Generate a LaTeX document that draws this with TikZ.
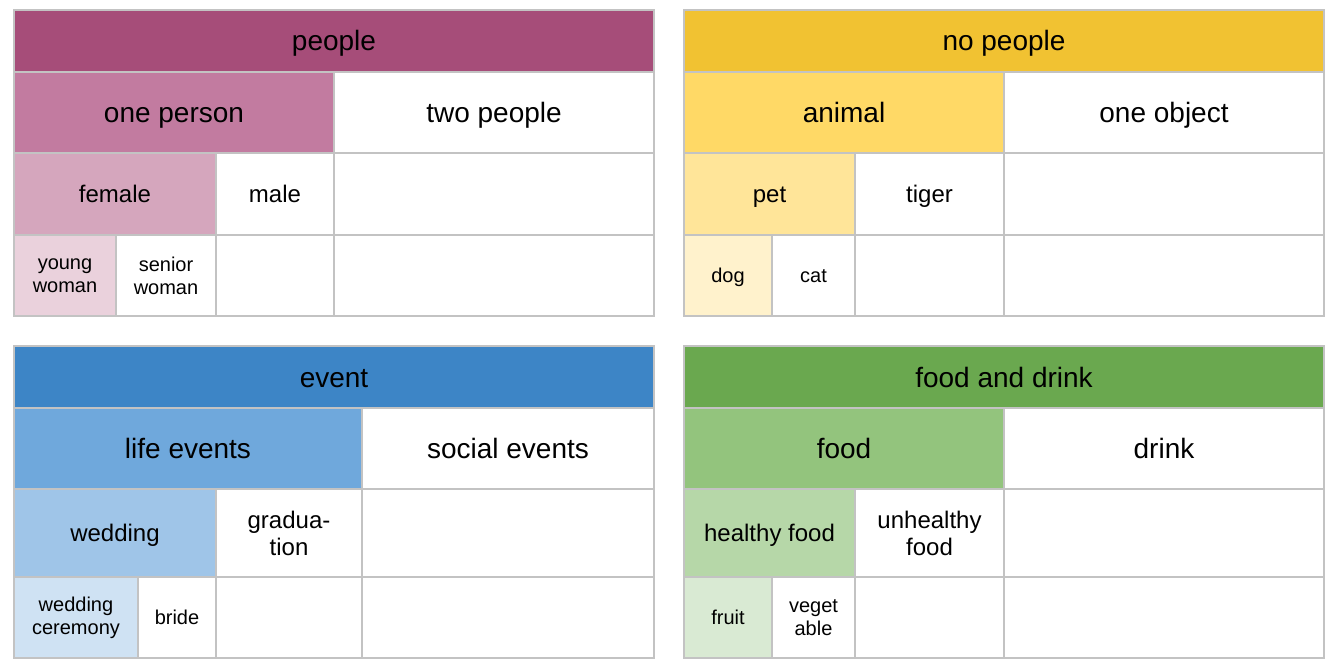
\documentclass[tikz,border=0pt]{standalone}
\usepackage{fontspec}
\setmainfont{Liberation Sans}
\definecolor{rule}{HTML}{C3C3C3}
\definecolor{magA}{HTML}{A64D79}
\definecolor{magB}{HTML}{C27BA0}
\definecolor{magC}{HTML}{D5A6BD}
\definecolor{magD}{HTML}{EAD1DC}
\definecolor{ylwA}{HTML}{F1C232}
\definecolor{ylwB}{HTML}{FFD966}
\definecolor{ylwC}{HTML}{FFE599}
\definecolor{ylwD}{HTML}{FFF2CC}
\definecolor{bluA}{HTML}{3D85C6}
\definecolor{bluB}{HTML}{6FA8DC}
\definecolor{bluC}{HTML}{9FC5E8}
\definecolor{bluD}{HTML}{CFE2F3}
\definecolor{grnA}{HTML}{6AA84F}
\definecolor{grnB}{HTML}{93C47D}
\definecolor{grnC}{HTML}{B6D7A8}
\definecolor{grnD}{HTML}{D9EAD3}
\usepackage{tikz}

\begin{document}
\begin{tikzpicture}[x=1bp,y=-1bp,
  cell/.style={draw=rule,line width=1.5bp,fill=white,rectangle,inner sep=0pt,align=center,text depth=0pt},
  lvA/.style={cell,minimum height=62bp,text height=20bp,font=\fontsize{28bp}{32bp}\selectfont},
  lvB/.style={cell,minimum height=81bp,text height=20bp,font=\fontsize{28bp}{32bp}\selectfont},
  lvC/.style={cell,minimum height=82bp,text height=17.2bp,font=\fontsize{24bp}{27bp}\selectfont},
  lvCC/.style={cell,minimum height=88bp,text height=17.2bp,font=\fontsize{24bp}{27bp}\selectfont},
  lvD/.style={cell,minimum height=81bp,text height=14.3bp,font=\fontsize{20bp}{23bp}\selectfont},
  twoline/.style={text height={},text depth={}}]
\useasboundingbox[fill=white] (0,0) rectangle (1334,668);
% people
\node[lvA,fill=magA,minimum width=640bp] (people) at (334,41) {people};
\node[lvB,fill=magB,minimum width=320bp] (oneperson) at (174,112.5) {one person};
\node[lvB,minimum width=320bp] (twopeople) at (494,112.5) {two people};
\node[lvC,fill=magC,minimum width=202bp] (female) at (115,194) {female};
\node[lvC,minimum width=118bp] (male) at (275,194) {male};
\node[lvC,minimum width=320bp] (pplC) at (494,194) {};
\node[lvD,twoline,fill=magD,minimum width=102bp] (youngwoman) at (65,275.5) {young\\woman};
\node[lvD,twoline,minimum width=100bp] (seniorwoman) at (166,275.5) {senior\\woman};
\node[lvD,minimum width=118bp] (pplD) at (275,275.5) {};
\node[lvD,minimum width=320bp] (pplDD) at (494,275.5) {};
% no people
\node[lvA,fill=ylwA,minimum width=640bp] (nopeople) at (1004,41) {no people};
\node[lvB,fill=ylwB,minimum width=320bp] (animal) at (844,112.5) {animal};
\node[lvB,minimum width=320bp] (oneobject) at (1164,112.5) {one object};
\node[lvC,fill=ylwC,minimum width=171bp] (pet) at (769.5,194) {pet};
\node[lvC,minimum width=149bp] (tiger) at (929.5,194) {tiger};
\node[lvC,minimum width=320bp] (nopC) at (1164,194) {};
\node[lvD,fill=ylwD,minimum width=88bp] (dog) at (728,275.5) {dog};
\node[lvD,minimum width=83bp] (cat) at (813.5,275.5) {cat};
\node[lvD,minimum width=149bp] (nopD) at (929.5,275.5) {};
\node[lvD,minimum width=320bp] (nopDD) at (1164,275.5) {};
% event
\node[lvA,fill=bluA,minimum width=640bp] (event) at (334,377) {event};
\node[lvB,fill=bluB,minimum width=348bp] (lifeevents) at (188,448.5) {life events};
\node[lvB,minimum width=292bp] (socialevents) at (508,448.5) {social events};
\node[lvCC,fill=bluC,minimum width=202bp] (wedding) at (115,533) {wedding};
\node[lvCC,twoline,minimum width=146bp] (graduation) at (289,533) {gradua-\\tion};
\node[lvCC,minimum width=292bp] (evtC) at (508,533) {};
\node[lvD,twoline,fill=bluD,minimum width=124bp] (ceremony) at (76,617.5) {wedding\\ceremony};
\node[lvD,minimum width=78bp] (bride) at (177,617.5) {bride};
\node[lvD,minimum width=146bp] (evtD) at (289,617.5) {};
\node[lvD,minimum width=292bp] (evtDD) at (508,617.5) {};
% food and drink
\node[lvA,fill=grnA,minimum width=640bp] (fooddrink) at (1004,377) {food and drink};
\node[lvB,fill=grnB,minimum width=320bp] (food) at (844,448.5) {food};
\node[lvB,minimum width=320bp] (drink) at (1164,448.5) {drink};
\node[lvCC,fill=grnC,minimum width=171bp] (healthy) at (769.5,533) {healthy food};
\node[lvCC,twoline,minimum width=149bp] (unhealthy) at (929.5,533) {unhealthy\\food};
\node[lvCC,minimum width=320bp] (fdC) at (1164,533) {};
\node[lvD,fill=grnD,minimum width=88bp] (fruit) at (728,617.5) {fruit};
\node[lvD,twoline,minimum width=83bp] (vegetable) at (813.5,617.5) {veget\\able};
\node[lvD,minimum width=149bp] (fdD) at (929.5,617.5) {};
\node[lvD,minimum width=320bp] (fdDD) at (1164,617.5) {};
\end{tikzpicture}
\end{document}
